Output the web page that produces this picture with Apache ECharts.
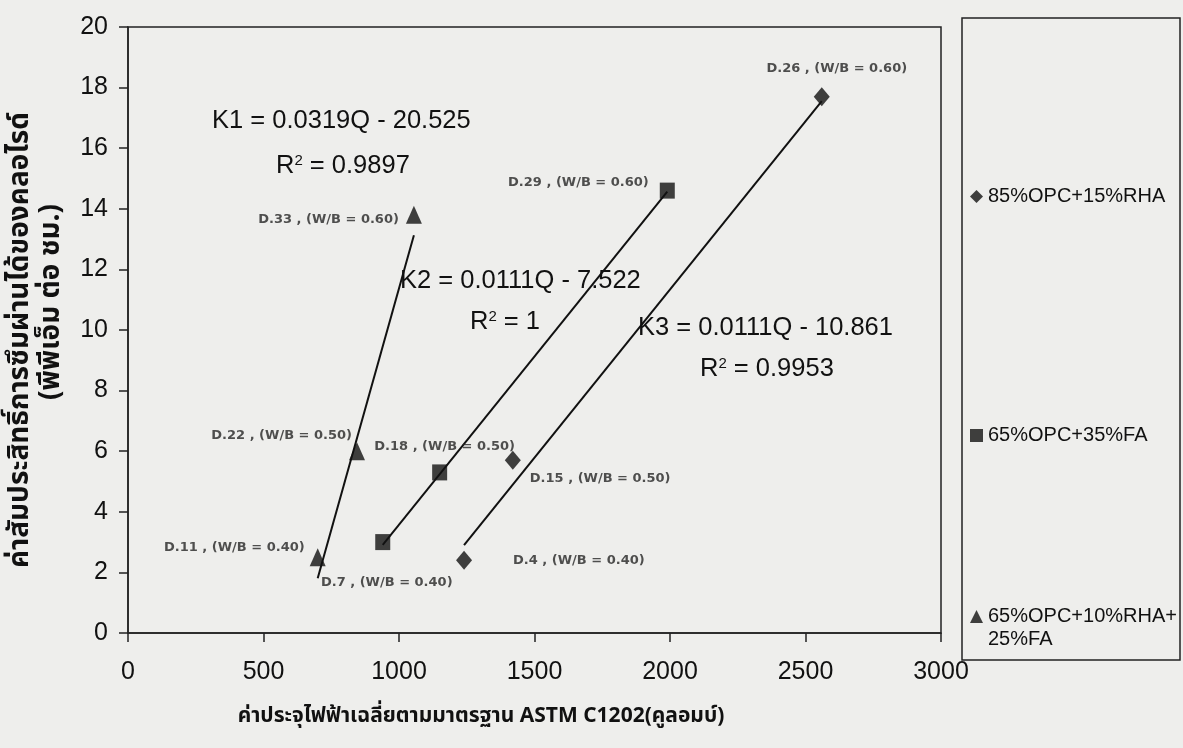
<!DOCTYPE html>
<html>
<head>
<meta charset="utf-8">
<script src="https://cdn.jsdelivr.net/npm/echarts@6/dist/echarts.min.js"></script>
<style>
  html, body { margin: 0; padding: 0; background: #eeeeec; }
  #chart { width: 1183px; height: 748px; }
</style>
</head>
<body>
<div id="chart"></div>
<script>
// Series names (mix designs)
const seriesNames = ['85%OPC+15%RHA', '65%OPC+35%FA', '65%OPC+10%RHA+25%FA'];

// 85%OPC+15%RHA : charge passed (coulomb) and chloride coefficient
const rhaQ = [1240, 1420, 2560];
const rhaK = [2.4, 5.7, 17.7];
const rhaLabels = ['D.4 , (W/B = 0.40)', 'D.15 , (W/B = 0.50)', 'D.26 , (W/B = 0.60)'];

// 65%OPC+35%FA
const faQ = [940, 1150, 1990];
const faK = [3.0, 5.3, 14.6];
const faLabels = ['D.7 , (W/B = 0.40)', 'D.18 , (W/B = 0.50)', 'D.29 , (W/B = 0.60)'];

// 65%OPC+10%RHA+25%FA
const mixQ = [700, 845, 1055];
const mixK = [2.5, 6.0, 13.8];
const mixLabels = ['D.11 , (W/B = 0.40)', 'D.22 , (W/B = 0.50)', 'D.33 , (W/B = 0.60)'];

// Linear trend lines K = a*Q + b
const trendNames = ['K3', 'K2', 'K1'];
const trendSlope = [0.0111, 0.0111, 0.0319];
const trendIntercept = [-10.861, -7.522, -20.525];
const trendR2 = ['0.9953', '1', '0.9897'];

// Axis ticks
const xTicks = [0, 500, 1000, 1500, 2000, 2500, 3000];
const yTicks = [0, 2, 4, 6, 8, 10, 12, 14, 16, 18, 20];

// Where each point label sits relative to its marker
const labelPlacement = {
  'D.4':  { position: 'right',  offset: [36, 0] },
  'D.15': { position: 'right',  offset: [4, 18] },
  'D.26': { position: 'top',    offset: [15, -7] },
  'D.7':  { position: 'bottom', offset: [4, 21] },
  'D.18': { position: 'top',    offset: [5, -6] },
  'D.29': { position: 'left',   offset: [-6, -8] },
  'D.11': { position: 'left',   offset: [0, -10] },
  'D.22': { position: 'left',   offset: [8, -16] },
  'D.33': { position: 'left',   offset: [-2, 5] }
};

const AXIS_FONT = "'Liberation Sans', Arial, sans-serif";
const THAI_FONT = "'Noto Sans Thai', 'Noto Sans', 'DejaVu Sans', sans-serif";
const LABEL_FONT = "'DejaVu Sans', sans-serif";

function pointData(qs, ks, labels) {
  return qs.map((q, i) => {
    const key = labels[i].split(' ')[0];
    const p = labelPlacement[key];
    return {
      value: [q, ks[i]],
      name: labels[i],
      label: { position: p.position, offset: p.offset }
    };
  });
}

function trendData(qs, idx) {
  const lo = Math.min(...qs), hi = Math.max(...qs);
  return [lo, hi].map(q => [q, trendSlope[idx] * q + trendIntercept[idx]]);
}

const pointLabel = {
  show: true,
  formatter: p => p.name,
  fontFamily: LABEL_FONT,
  fontWeight: 'bold',
  fontSize: 13,
  color: '#262626',
  distance: 5
};

const symbols = ['diamond', 'rect', 'triangle'];
const symbolSizes = [[16, 19], [15, 16], [16, 18]];
const groups = [
  pointData(rhaQ, rhaK, rhaLabels),
  pointData(faQ, faK, faLabels),
  pointData(mixQ, mixK, mixLabels)
];
const groupQ = [rhaQ, faQ, mixQ];

const series = [];
groups.forEach((g, i) => {
  series.push({
    name: trendNames[i],
    type: 'line',
    data: trendData(groupQ[i], i),
    symbol: 'none',
    silent: true,
    lineStyle: { color: '#111', width: 2 },
    z: 2
  });
});
groups.forEach((g, i) => {
  series.push({
    name: seriesNames[i],
    type: 'scatter',
    data: g,
    symbol: symbols[i],
    symbolSize: symbolSizes[i],
    itemStyle: { color: '#111' },
    label: pointLabel,
    z: 3
  });
});

// Legend entries, one block per series; the long name wraps under its marker line
const legendTops = [185, 424, 582];
const legends = seriesNames.map((n, i) => ({
  data: [n],
  orient: 'vertical',
  left: 970,
  top: legendTops[i],
  padding: 0,
  itemWidth: 13,
  itemHeight: 13,
  itemGap: 0,
  selectedMode: false,
  formatter: name => (name.indexOf('RHA+25') >= 0 ? '\n' + name.replace('RHA+25', 'RHA+\n25') : name),
  textStyle: { fontFamily: AXIS_FONT, fontSize: 20, color: '#111', lineHeight: 23 }
}));

// Trend equations
const eqText = [
  { eq: 'K3 = 0.0111Q - 10.861', x: 638, y: 330, rx: 700, ry: 373 },
  { eq: 'K2 = 0.0111Q - 7.522', x: 400, y: 283, rx: 470, ry: 326 },
  { eq: 'K1 = 0.0319Q - 20.525', x: 212, y: 123, rx: 276, ry: 170 }
];
const eqStyle = { fontFamily: AXIS_FONT, fontSize: 25.5, fill: '#111' };
const graphics = [];
eqText.forEach((e, i) => {
  graphics.push({
    type: 'text', left: e.x, top: e.y - 15, silent: true, z: 10,
    style: Object.assign({ text: e.eq }, eqStyle)
  });
  graphics.push({
    type: 'text', left: e.rx, top: e.ry - 17, silent: true, z: 10,
    style: Object.assign({
      text: 'R{s|2} = ' + trendR2[i],
      rich: { s: { fontSize: 15, verticalAlign: 'top', fontFamily: AXIS_FONT, fill: '#111' } }
    }, eqStyle)
  });
});

// Legend frame
graphics.push({
  type: 'rect', shape: { x: 962, y: 18, width: 218, height: 642 }, silent: true,
  style: { fill: 'none', stroke: '#222', lineWidth: 1.5 }
});

// Axis titles
graphics.push({
  type: 'text', silent: true,
  x: 481, y: 718,
  style: {
    text: 'ค่าประจุไฟฟ้าเฉลี่ยตามมาตรฐาน ASTM C1202(คูลอมบ์)',
    fontFamily: THAI_FONT, fontWeight: 'bold', fontSize: 21, fill: '#111',
    align: 'center', verticalAlign: 'middle'
  }
});
graphics.push({
  type: 'text', silent: true,
  x: 22, y: 340, rotation: Math.PI / 2,
  style: {
    text: 'ค่าสัมประสิทธิ์การซึมผ่านได้ของคลอไรด์',
    fontFamily: THAI_FONT, fontWeight: 'bold', fontSize: 28, fill: '#111',
    align: 'center', verticalAlign: 'middle'
  }
});
graphics.push({
  type: 'text', silent: true,
  x: 53, y: 302, rotation: Math.PI / 2,
  style: {
    text: '(พีพีเอ็ม ต่อ ชม.)',
    fontFamily: THAI_FONT, fontWeight: 'bold', fontSize: 28, fill: '#111',
    align: 'center', verticalAlign: 'middle'
  }
});

const chart = echarts.init(document.getElementById('chart'), null, { renderer: 'canvas' });
chart.setOption({
  backgroundColor: '#eeeeec',
  animation: false,
  grid: {
    left: 128, top: 27, right: 242, bottom: 115,
    show: true, borderColor: '#222', borderWidth: 1.5, backgroundColor: 'transparent'
  },
  legend: legends,
  xAxis: {
    type: 'value',
    min: xTicks[0], max: xTicks[xTicks.length - 1], interval: xTicks[1] - xTicks[0],
    splitLine: { show: false },
    axisLine: { lineStyle: { color: '#222', width: 1.5 } },
    axisTick: { length: 9, lineStyle: { color: '#222', width: 1.5 } },
    axisLabel: { fontFamily: AXIS_FONT, fontSize: 25, color: '#111', margin: 27, formatter: v => String(v) }
  },
  yAxis: {
    type: 'value',
    min: yTicks[0], max: yTicks[yTicks.length - 1], interval: yTicks[1] - yTicks[0],
    splitLine: { show: false },
    axisLine: { show: true, lineStyle: { color: '#222', width: 1.5 } },
    axisTick: { show: true, length: 9, lineStyle: { color: '#222', width: 1.5 } },
    axisLabel: { fontFamily: AXIS_FONT, fontSize: 25, color: '#111', margin: 20 }
  },
  graphic: graphics,
  series: series
});
</script>
</body>
</html>
